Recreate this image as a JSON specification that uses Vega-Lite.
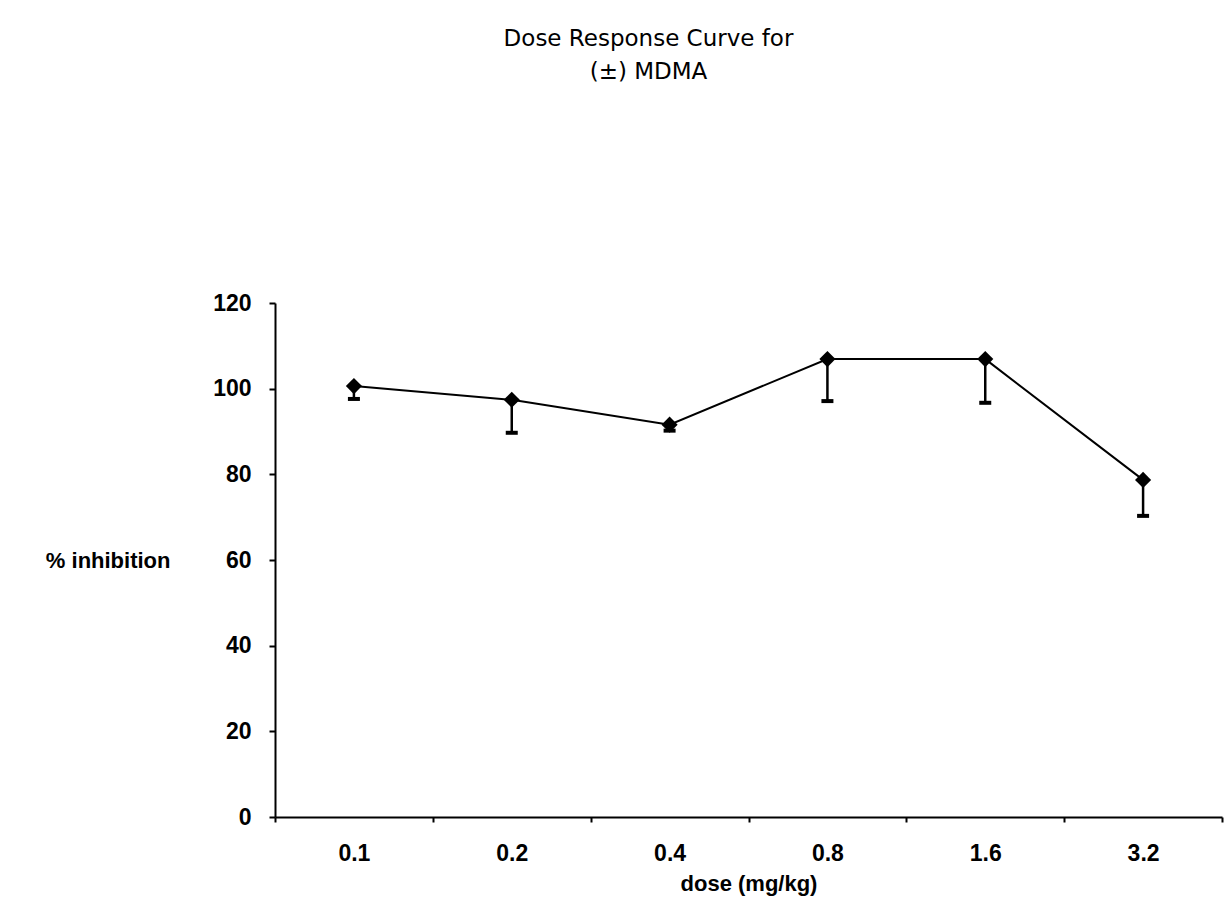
{
  "$schema": "https://vega.github.io/schema/vega-lite/v6.json",
  "autosize": "none",
  "width": 947,
  "height": 514,
  "padding": {"left": 275, "top": 303, "right": 2, "bottom": 100},
  "background": "white",
  "view": {"stroke": null},
  "title": {
    "text": ["Dose Response Curve for", "(±) MDMA"],
    "font": "DejaVu Sans",
    "fontSize": 23,
    "fontWeight": "normal",
    "lineHeight": 33,
    "color": "black",
    "anchor": "middle",
    "frame": "group",
    "dx": -100,
    "offset": 208
  },
  "data": {
    "values": [
      {"dose": "0.1", "inhibition": 100.6, "lower": 97.6},
      {"dose": "0.2", "inhibition": 97.4, "lower": 89.7},
      {"dose": "0.4", "inhibition": 91.6, "lower": 90.2},
      {"dose": "0.8", "inhibition": 106.9, "lower": 97.1},
      {"dose": "1.6", "inhibition": 106.9, "lower": 96.7},
      {"dose": "3.2", "inhibition": 78.7, "lower": 70.3}
    ]
  },
  "encoding": {
    "x": {
      "field": "dose",
      "type": "nominal",
      "sort": null,
      "scale": {"type": "band", "paddingInner": 0, "paddingOuter": 0},
      "axis": {
        "title": "dose (mg/kg)",
        "labelAngle": 0,
        "tickBand": "extent",
        "domainColor": "black",
        "domainWidth": 2,
        "tickColor": "black",
        "tickWidth": 2,
        "tickSize": 5,
        "labelFont": "Liberation Sans",
        "labelFontSize": 23,
        "labelFontWeight": "bold",
        "labelColor": "black",
        "labelPadding": 20,
        "titleFont": "Liberation Sans",
        "titleFontSize": 22,
        "titleFontWeight": "bold",
        "titleColor": "black",
        "titlePadding": 8
      }
    },
    "y": {
      "field": "inhibition",
      "type": "quantitative",
      "scale": {"domain": [0, 120], "nice": false},
      "axis": {
        "title": "% inhibition",
        "values": [0, 20, 40, 60, 80, 100, 120],
        "grid": false,
        "domainColor": "black",
        "domainWidth": 2,
        "tickColor": "black",
        "tickWidth": 2,
        "tickSize": 6,
        "labelFont": "Liberation Sans",
        "labelFontSize": 23,
        "labelFontWeight": "bold",
        "labelColor": "black",
        "labelPadding": 18,
        "titleAngle": 0,
        "titleAlign": "right",
        "titleBaseline": "middle",
        "titleX": -105,
        "titleY": 257,
        "titleFont": "Liberation Sans",
        "titleFontSize": 22,
        "titleFontWeight": "bold",
        "titleColor": "black"
      }
    }
  },
  "layer": [
    {
      "mark": {"type": "rule", "color": "black", "strokeWidth": 2.5},
      "encoding": {"y": {"field": "lower", "type": "quantitative"}, "y2": {"field": "inhibition"}}
    },
    {
      "mark": {"type": "tick", "color": "black", "thickness": 4, "size": 12, "orient": "horizontal", "opacity": 1},
      "encoding": {"y": {"field": "lower", "type": "quantitative"}}
    },
    {
      "mark": {"type": "line", "color": "black", "strokeWidth": 2}
    },
    {
      "mark": {"type": "point", "shape": "diamond", "filled": true, "color": "black", "size": 260, "opacity": 1}
    }
  ]
}
